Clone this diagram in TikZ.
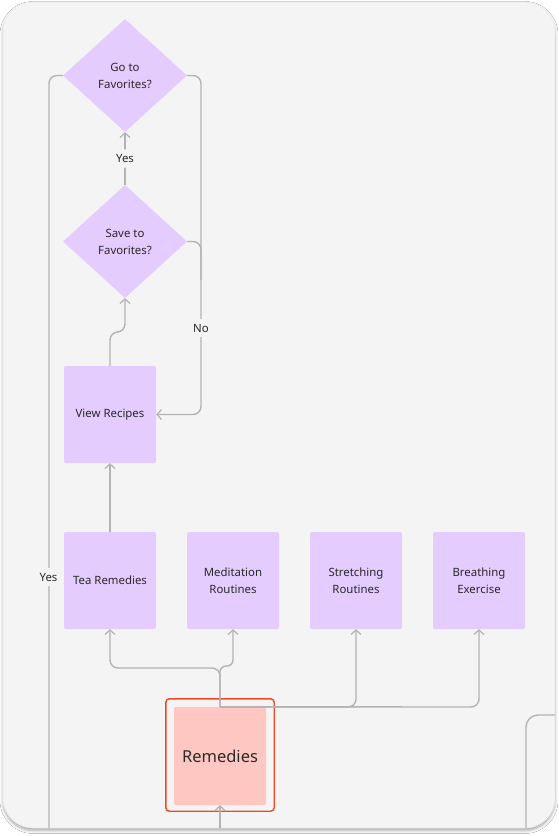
\documentclass[tikz,border=0pt]{standalone}
\usepackage{fontspec}
\setmainfont{Noto Sans}
\usetikzlibrary{arrows.meta,shapes.geometric,calc,shadows.blur}

\definecolor{panelbg}{HTML}{F4F4F4}
\definecolor{paneledge}{HTML}{EBEBEB}
\definecolor{lavender}{HTML}{E4CCFF}
\definecolor{rosefill}{HTML}{FFC7C2}
\definecolor{selred}{HTML}{F24822}
\definecolor{wire}{HTML}{B3B3B3}
\definecolor{ink}{HTML}{2A2A2A}

\tikzset{
  stepbox/.style={rectangle, fill=lavender, rounded corners=2pt,
    minimum width=92pt, minimum height=97pt, inner sep=0pt, align=center,
    text=ink, font=\fontsize{11.4}{17}\selectfont},
  decision/.style={diamond, fill=lavender, minimum width=124pt,
    minimum height=113pt, inner sep=0pt, align=center, text=ink,
    font=\fontsize{11.4}{17}\selectfont},
  wirepath/.style={draw=wire, line width=1.4pt, rounded corners=8pt},
  tip/.style={-{Straight Barb[length=4.5pt,width=10pt,line width=1.2pt]}},
  gaplabel/.style={fill=panelbg, text=ink, inner xsep=2pt, inner ysep=5pt,
    font=\fontsize{11.4}{13}\selectfont},
}

\begin{document}
\begin{tikzpicture}[x=1pt,y=-1pt]
\useasboundingbox (0,0) rectangle (558,836);
\fill[white] (0,0) rectangle (558,836);

% canvas panel
\path[fill=panelbg, draw=paneledge, line width=0.6pt, rounded corners=30pt,
  blur shadow={shadow xshift=0pt, shadow yshift=-2.5pt,
  shadow blur radius=3pt, shadow opacity=35}]
  (3,2) rectangle (555,828);

\begin{scope}
\clip[rounded corners=30pt] (3,2) rectangle (555,828);

% nodes
\node[decision] (gof) at (125,75.5) {Go to\\Favorites?};
\node[decision] (sav) at (125,241.5) {Save to\\Favorites?};
\node[stepbox] (vr)  at (110,414.5) {View Recipes};
\node[stepbox] (tea) at (110,580.5) {Tea Remedies};
\node[stepbox] (med) at (233,580.5) {Meditation\\Routines};
\node[stepbox] (str) at (356,580.5) {Stretching\\Routines};
\node[stepbox] (bre) at (479,580.5) {Breathing\\Exercise};
\node[rectangle, fill=rosefill, rounded corners=2pt, minimum width=92pt,
  minimum height=98pt, inner sep=0pt, text=ink,
  font=\fontsize{16.5}{19}\selectfont] (rem) at (220,756) {Remedies};
\draw[selred, line width=1.4pt, rounded corners=3.5pt]
  ($(rem.north west)+(-8,-8)$) rectangle ($(rem.south east)+(8,6)$);

% free ends leaving the canvas
\coordinate (yesend) at (49,836);
\coordinate (remin)  at (220,836);
\coordinate (sidein) at (560,715);
\coordinate (sideout) at (526,836);

% decision flow
\draw[wirepath, tip] (sav.north) -- node[gaplabel] {Yes} (gof.south);
\draw[wirepath, tip] (vr.north) -- (110,332) -- (125,332) -- (sav.south);
\draw[wirepath, tip] (gof.east) -- (201,75.5) -- (201,414.5) -- (vr.east);
\draw[wirepath] (sav.east) -- (201,241.5) -- (201,280);
\node[gaplabel] (nolbl) at (201,328) {No};
\draw[wirepath] (gof.west) -- (49,75.5) -- (yesend);
\node[gaplabel] (yeslbl) at (48.5,577) {Yes};

% remedies branches
\draw[wirepath, tip] (tea.north) -- (vr.south);
\draw[wirepath, tip] (rem.north) -- (220,668) -- (110,668) -- (tea.south);
\draw[wirepath, rounded corners=6pt, tip] (rem.north) -- (220,666) -- (233,666) -- (med.south);
\draw[wirepath, tip] (rem.north) -- (356,707) -- (str.south);
\draw[wirepath, tip] (rem.north) -- (479,707) -- (bre.south);
\draw[wirepath, tip] (remin) -- (rem.south);
\draw[wirepath, rounded corners=12pt] (sidein) -- (526,715) -- (sideout);
\end{scope}
\end{tikzpicture}
\end{document}
